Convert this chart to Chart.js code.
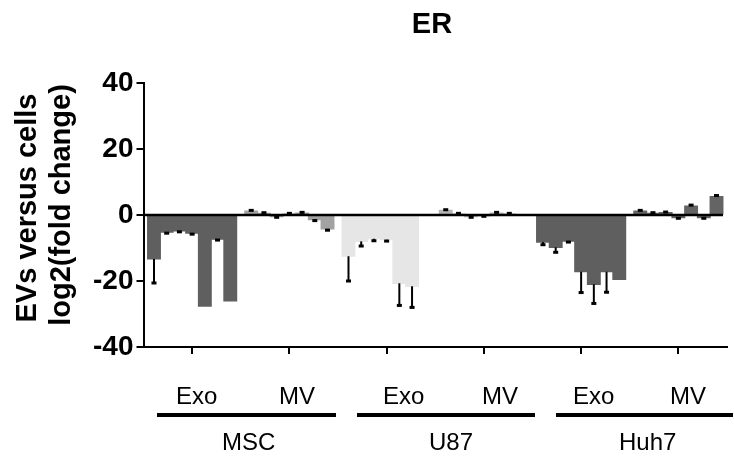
<!DOCTYPE html>
<html>
<head>
<meta charset="utf-8">
<script src="https://cdn.jsdelivr.net/npm/chart.js@4.4.1/dist/chart.umd.min.js"></script>
<style>
html,body{margin:0;padding:0;background:#fff;}
#wrap{width:734px;height:465px;position:relative;}
</style>
</head>
<body>
<div id="wrap"><canvas id="c" width="734" height="465"></canvas></div>
<script>
// ---- data ----
const categories = ['MSC Exo', 'MSC MV', 'U87 Exo', 'U87 MV', 'Huh7 Exo', 'Huh7 MV'];
const mscExo  = [-13.3, -5.2, -4.8, -5.5, -27.6, -7.3, -26.0];
const mscMv   = [1.2, 0.5, -0.5, 0.3, 0.6, -1.4, -4.2];
const u87Exo  = [-12.5, -8.0, -7.2, -7.5, -20.7, -21.6, 0];
const u87Mv   = [1.4, 0.3, -0.5, -0.2, 0.6, 0.3, 0];
const huh7Exo = [-8.2, -9.8, -7.9, -17.2, -21.0, -17.2, -19.5];
const huh7Mv  = [1.2, 0.5, 0.7, -0.8, 2.7, -0.8, 5.6];
const mscExoErr  = [7.3, 0.3, 0.3, 0.3, 0, 0.3, 0];
const mscMvErr   = [0.2, 0.2, 0.2, 0.2, 0.2, 0.3, 0.4];
const u87ExoErr  = [7.5, 1.4, 0.6, 0.4, 6.7, 6.4, 0];
const u87MvErr   = [0.2, 0.2, 0.2, 0.2, 0.2, 0.2, 0];
const huh7ExoErr = [0.8, 1.5, 0.3, 6.3, 5.8, 6.2, 0];
const huh7MvErr  = [0.2, 0.2, 0.2, 0.2, 0.3, 0.2, 0.3];
const yTicks = [-40, -20, 0, 20, 40];
const chartTitle = 'ER';
const yTitle = ['EVs versus cells', 'log2(fold change)'];
const typeLabels = ['Exo', 'MV', 'Exo', 'MV', 'Exo', 'MV'];
const cellLabels = ['MSC', 'U87', 'Huh7'];

const series = [mscExo, mscMv, u87Exo, u87Mv, huh7Exo, huh7Mv];
const errs = [mscExoErr, mscMvErr, u87ExoErr, u87MvErr, huh7ExoErr, huh7MvErr];
const groupColors = ['#5f5f5f', '#a2a2a2', '#e6e6e6', '#b4b4b4', '#5f5f5f', '#646464'];

const datasets = [];
for (let i = 0; i < 7; i++) {
  datasets.push({
    data: series.map(s => s[i]),
    err: errs.map(e => e[i]),
    backgroundColor: groupColors,
    borderWidth: 0,
    inflateAmount: 0.6,
    categoryPercentage: 0.915,
    barPercentage: 1.0
  });
}

const FONT = '"Liberation Sans", Arial, sans-serif';

const overlay = {
  id: 'overlay',
  afterDatasetsDraw(chart) {
    const ctx = chart.ctx;
    const y = chart.scales.y;
    const area = chart.chartArea;
    const y0 = y.getPixelForValue(0);
    ctx.save();
    ctx.strokeStyle = '#000';
    ctx.lineWidth = 2.5;
    ctx.beginPath();
    ctx.moveTo(area.left, y0);
    ctx.lineTo(area.right - 4, y0);
    ctx.stroke();
    chart.data.datasets.forEach((ds, di) => {
      const meta = chart.getDatasetMeta(di);
      meta.data.forEach((bar, j) => {
        const v = ds.data[j];
        const e = ds.err[j];
        if (!e) return;
        const sign = v < 0 ? -1 : 1;
        const y1 = y.getPixelForValue(v);
        const y2 = y.getPixelForValue(v + sign * e);
        ctx.lineWidth = 2;
        ctx.beginPath();
        ctx.moveTo(bar.x, y1);
        ctx.lineTo(bar.x, y2);
        ctx.stroke();
        ctx.fillStyle = '#000';
        ctx.fillRect(bar.x - 2.5, y2 - 1.5, 5, 3);
      });
    });
    ctx.restore();
  },
  afterDraw(chart) {
    const ctx = chart.ctx;
    ctx.save();
    ctx.fillStyle = '#000';
    ctx.font = 'bold 29px ' + FONT;
    ctx.textAlign = 'center';
    ctx.textBaseline = 'alphabetic';
    ctx.fillText(chartTitle, 432, 33);
    ctx.save();
    ctx.translate(36, 208);
    ctx.rotate(-Math.PI / 2);
    ctx.fillText(yTitle[0], 0, 0);
    ctx.restore();
    ctx.save();
    ctx.translate(70, 205);
    ctx.rotate(-Math.PI / 2);
    ctx.fillText(yTitle[1], 0, 0);
    ctx.restore();
    // group labels
    ctx.font = '24px ' + FONT;
    ctx.textAlign = 'left';
    const typeX = [176, 279, 383, 482, 573, 670];
    for (let i = 0; i < typeLabels.length; i++) {
      ctx.fillText(typeLabels[i], typeX[i], 404);
    }
    ctx.lineWidth = 4;
    ctx.strokeStyle = '#000';
    const ranges = [[157, 336], [357, 535], [556, 733]];
    ranges.forEach(r => {
      ctx.beginPath();
      ctx.moveTo(r[0], 415);
      ctx.lineTo(r[1], 415);
      ctx.stroke();
    });
    const cellX = [222, 429, 619];
    for (let k = 0; k < cellLabels.length; k++) {
      ctx.fillText(cellLabels[k], cellX[k], 450);
    }
    ctx.restore();
  }
};

new Chart(document.getElementById('c'), {
  type: 'bar',
  data: { labels: categories, datasets: datasets },
  options: {
    responsive: false,
    animation: false,
    layout: { padding: { left: 0, top: 83, right: 7, bottom: 108 } },
    plugins: { legend: { display: false }, tooltip: { enabled: false }, title: { display: false } },
    scales: {
      x: {
        type: 'category',
        grid: { display: true, drawOnChartArea: false, drawTicks: true, tickLength: 7, color: '#000', lineWidth: 2, offset: false },
        border: { display: true, color: '#000', width: 2 },
        ticks: { display: false },
        afterFit(s) { s.height = 10; }
      },
      y: {
        min: -40, max: 40,
        afterBuildTicks(s) { s.ticks = yTicks.map(v => ({ value: v })); },
        grid: { display: true, drawOnChartArea: false, drawTicks: true, tickLength: 7, color: '#000', lineWidth: 2 },
        border: { display: true, color: '#000', width: 2 },
        ticks: { color: '#000', font: { family: FONT, size: 28, weight: 'bold' }, padding: 3 },
        afterFit(s) { s.width = 143.5; }
      }
    }
  },
  plugins: [overlay]
});
</script>
</body>
</html>
